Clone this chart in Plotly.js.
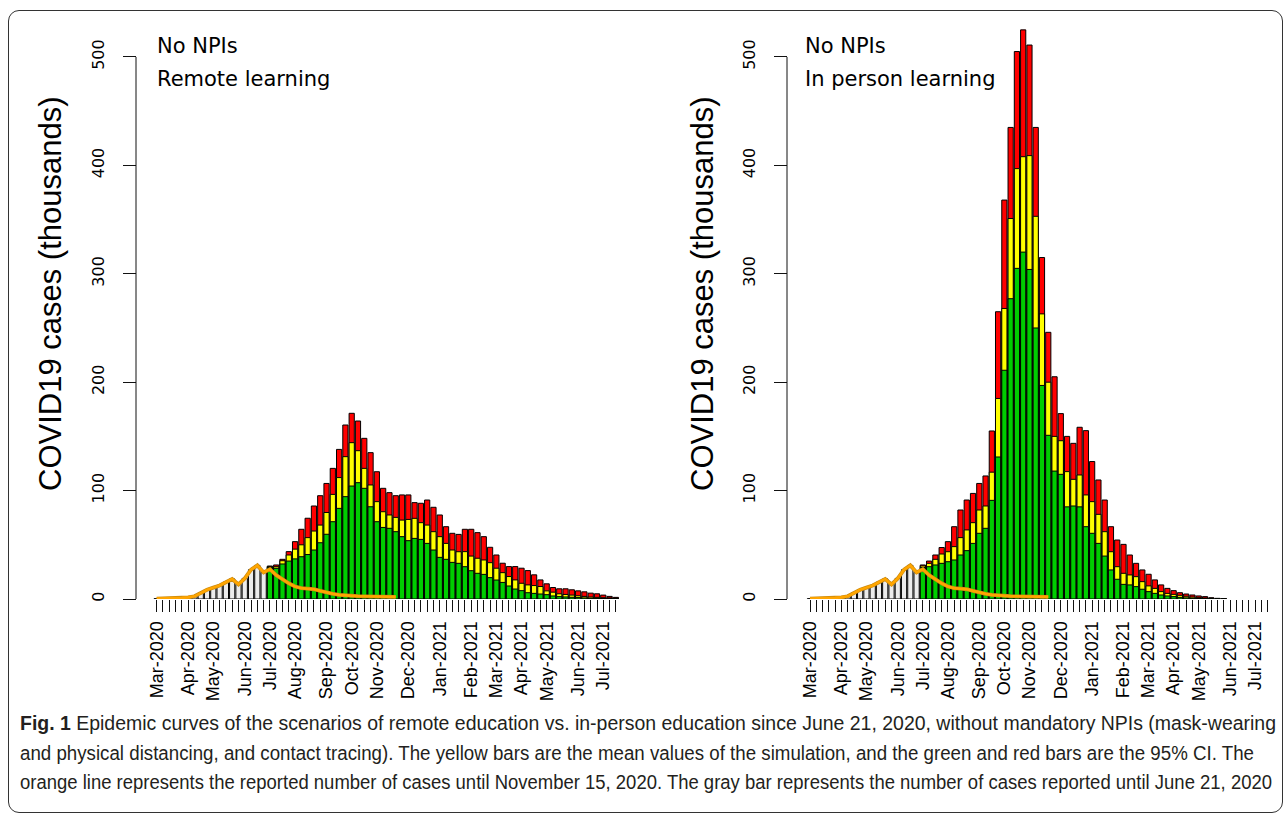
<!DOCTYPE html>
<html>
<head>
<meta charset="utf-8">
<script src="https://cdn.plot.ly/plotly-3.0.1.min.js"></script>
<style>
  html, body { margin:0; padding:0; background:#fff; }
  #wrap { position:relative; width:1284px; height:818px; overflow:hidden; }
  #frame { position:absolute; left:8px; top:10px; width:1275px; height:803px; border:1.5px solid #333; border-radius:11px; box-sizing:border-box; }
  #plot { position:absolute; left:0; top:0; width:1284px; height:818px; }
  #cap { position:absolute; left:20px; top:709px; font-family:'Liberation Sans',Arial,sans-serif; font-size:20px; line-height:29.5px; color:#231f20; white-space:nowrap; }
  #cap span { display:inline-block; transform-origin:0 50%; }
  #cap b { font-weight:bold; }
</style>
</head>
<body>
<div id="wrap">
  <div id="frame"></div>
  <div id="plot"></div>
  <div id="cap"></div>
</div>
<script>
// ---- Data (thousands of cases per week; week index 0 = first week of Mar-2020) ----
const monthLabels = ['Mar-2020','Apr-2020','May-2020','Jun-2020','Jul-2020','Aug-2020','Sep-2020','Oct-2020','Nov-2020','Dec-2020','Jan-2021','Feb-2021','Mar-2021','Apr-2021','May-2021','Jun-2021','Jul-2021'];
const monthWeekIdx = [0,5,9,14,18,22,27,31,35,40,45,50,54,58,62,67,71];
const nWeeks = 74;

// reported weekly cases (orange line), weeks 0..38 (until Nov 15, 2020)
const reported = [0.3,0.4,0.5,0.7,1.0,1.5,2.5,5.5,8.5,10.5,12.5,15.5,18.5,13.5,19,27,31,24.5,27.5,22,18,14.5,11.5,10,9.5,9,7.5,5.8,4.8,3.8,3.2,2.8,2.6,2.5,2.4,2.3,2.2,2.1,2.0];
// reported cases shown as gray bars, weeks 0..17 (until June 21, 2020)
const grayBars = [0.3,0.4,0.5,0.7,1.0,1.5,2.5,5.5,8.5,10.5,12.5,15.5,18.5,13.5,19,27,31,24.5];

// simulation starts at week 18
const simStart = 18;
// Left: No NPIs, remote learning
const leftUpper = [30.4,31.4,36.6,43.7,52.9,64.3,74.5,85.8,95.3,106.6,120.5,138,160.5,171.3,164.2,148.2,135,117.4,102.1,98.1,95.3,96,96,88.9,88.3,91.3,84.6,77.5,66.7,60.6,59.6,64.3,64.3,61.2,57.5,47.7,40.6,33,29.9,29.9,28.4,26.2,22.3,17.6,14,10.6,9.4,9.4,8.5,7.5,6.6,5.4,4.8,3.6,2.4,1.5];
const leftMean  = [29.8,29.8,35.3,40.6,46,50,56.6,62.7,68.2,79.8,96.5,112,131.3,144.2,136.8,120.5,105.2,89.8,80.5,77.5,75.3,72.8,73.4,74.4,70.4,68.2,62.1,57.5,51.3,45.2,43.6,43.7,39.6,37.6,36,33.5,28.4,24.3,20.7,17.6,14.5,13,12.4,11.5,7.5,6.3,4.8,4.2,3.6,3,2.4,1.8,1.5,1.2,1,0.7];
const leftLower = [29.2,28.3,32.3,35,37,39,41,45.2,51.9,59.7,71.3,83.6,94.4,104.2,107.3,102.1,85.1,71.3,66,65.2,62.1,57.5,53.8,55.9,55,51.3,45.2,38.4,36.6,33.8,32.9,29.8,26.1,23.7,22.7,19.7,17.5,15.3,12,9.2,7.7,5.8,5.2,4.6,4,2.8,2.2,1.9,1.6,1.3,1,0.7,0.6,0.5,0.4,0.3];
// Right: No NPIs, in person learning
const rightUpper = [31.4,35,40.6,47.5,52.9,66.7,82.1,91.3,97.4,106.6,113.5,155,265,368,435,505,525,511,435,315,246,205,171,150,143.6,158.4,155.3,126.8,109.8,91.3,66.7,54.4,50.4,40.6,32.9,26.8,22.8,17.6,13,9.8,7.7,5.8,4.6,3.7,2.8,2.2,1.2,0.6,0.3,0,0,0,0,0,0,0];
const rightMean  = [30.5,32.9,36.6,41.5,43.6,48.3,56.6,63.7,70.4,82.1,85.8,117,185,268,351,397,408,409,353,263,200,150,146,117.5,110.4,114.4,96,89.8,78.1,62.1,43.6,29.8,23.7,22.2,20.6,16,12.1,9.8,6.8,5.2,4.3,3.4,2.5,1.8,1.2,0.9,0.5,0.3,0.1,0,0,0,0,0,0,0];
const rightLower = [29,29.8,31.4,32.9,34.4,36,40.6,44.6,51.3,60.6,65.2,91,131,211,277,305,320,304,250,197,151,118,115,85,85.8,85,66.7,60.6,51.3,39.6,26.8,18.2,13.5,13,11.4,9,6.8,5.2,3.7,2.8,2.2,1.5,1,0.7,0.5,0.3,0.2,0.1,0.05,0,0,0,0,0,0,0];

const yTicks = [0,100,200,300,400,500];
const yTitle = 'COVID19 cases (thousands)';
const panelText = [['No NPIs','Remote learning'],['No NPIs','In person learning']];
const captionBold = 'Fig. 1';
const captionLines = [
  ' Epidemic curves of the scenarios of remote education vs. in-person education since June 21, 2020, without mandatory NPIs (mask-wearing',
  'and physical distancing, and contact tracing). The yellow bars are the mean values of the simulation, and the green and red bars are the 95% CI. The',
  'orange line represents the reported number of cases until November 15, 2020. The gray bar represents the number of cases reported until June 21, 2020'
];
const captionLineWidths = [1256, 1234, 1252];

// ---- caption ----
const cap = document.getElementById('cap');
captionLines.forEach((t, i) => {
  const row = document.createElement('div');
  const sp = document.createElement('span');
  if (i === 0) { const b = document.createElement('b'); b.textContent = captionBold; sp.appendChild(b); }
  sp.appendChild(document.createTextNode(t));
  row.appendChild(sp);
  cap.appendChild(row);
  const w = sp.getBoundingClientRect().width;
  sp.style.transform = 'scaleX(' + (captionLineWidths[i] / w) + ')';
});

// ---- helpers ----
const W = 1284, H = 818;
const px = v => v / W;
const py = v => 1 - v / H;
const allIdx = Array.from({length:nWeeks}, (_, i) => i);
const tickText = allIdx.map(i => { const k = monthWeekIdx.indexOf(i); return k >= 0 ? monthLabels[k] : ''; });
const simX = Array.from({length:leftUpper.length}, (_, i) => i + simStart);
const grayX = grayBars.map((_, i) => i);
const repX = reported.map((_, i) => i);

const barW = 0.83;
const edge = {color:'#000', width:1};
function panelTraces(up, mean, low, xa, ya) {
  const nz = a => a.map(v => v > 0 ? v : null);
  return [
    {type:'bar', x:grayX, y:grayBars, width:barW, marker:{color:'#ececec', line:edge}, xaxis:xa, yaxis:ya, hoverinfo:'skip'},
    {type:'bar', x:simX, y:nz(up), width:barW, marker:{color:'#ff0000', line:edge}, xaxis:xa, yaxis:ya, hoverinfo:'skip'},
    {type:'bar', x:simX, y:nz(mean), width:barW, marker:{color:'#ffff00', line:edge}, xaxis:xa, yaxis:ya, hoverinfo:'skip'},
    {type:'bar', x:simX, y:nz(low), width:barW, marker:{color:'#00cd00', line:edge}, xaxis:xa, yaxis:ya, hoverinfo:'skip'},
    {type:'scatter', mode:'lines', x:repX, y:reported, line:{color:'#c98a10', width:3.8}, xaxis:xa, yaxis:ya, hoverinfo:'skip'},
    {type:'scatter', mode:'lines', x:repX, y:reported, line:{color:'#ffa500', width:2.6}, xaxis:xa, yaxis:ya, hoverinfo:'skip'}
  ];
}

const data = [].concat(
  panelTraces(leftUpper, leftMean, leftLower, 'x', 'y'),
  panelTraces(rightUpper, rightMean, rightLower, 'x2', 'y2')
);

// geometry (pixels)
const yDom = [py(599), py(13.6)];
const yRange = [0, 540];
const L = {i0:156.7, s:6.29, axisX:136, titleX:50, textX:155};
const R = {i0:810, s:6.27, axisX:787, titleX:702, textX:803};
const xDom = p => [px(p.i0 - p.s), px(p.i0 + 74 * p.s)];

const xCommon = {range:[-1,74], tickvals:allIdx, ticktext:tickText, ticks:'outside', ticklen:12, tickwidth:1, tickcolor:'#111',
  tickangle:-90, showline:false, showgrid:false, zeroline:false, ticklabelstandoff:2,
  tickfont:{family:'Liberation Sans, Arial, sans-serif', size:18, color:'#000'}, fixedrange:true};
const yCommon = {range:yRange, domain:yDom, tickvals:yTicks, ticks:'outside', ticklen:13, tickwidth:1, tickcolor:'#111',
  tickangle:-90, showline:false, showgrid:false, zeroline:false, ticklabelstandoff:13, side:'left', anchor:'free',
  tickfont:{family:'DejaVu Sans, sans-serif', size:16, color:'#000'}, fixedrange:true};

const ann = [];
[[L,0],[R,1]].forEach(([p,k]) => {
  ann.push({xref:'paper', yref:'paper', x:px(p.titleX), y:py(294), text:yTitle, textangle:-90, showarrow:false,
    xanchor:'center', yanchor:'middle', font:{family:'Liberation Sans, Arial, sans-serif', size:31, color:'#000'}});
  ann.push({xref:'paper', yref:'paper', x:px(p.textX), y:py(46), text:panelText[k][0], showarrow:false,
    xanchor:'left', yanchor:'middle', font:{family:'DejaVu Sans, sans-serif', size:21, color:'#000'}});
  ann.push({xref:'paper', yref:'paper', x:px(p.textX), y:py(79), text:panelText[k][1], showarrow:false,
    xanchor:'left', yanchor:'middle', font:{family:'DejaVu Sans, sans-serif', size:21, color:'#000'}});
});

const shapes = [L, R].map((p, k) => ({type:'line', xref:'paper', yref: k ? 'y2' : 'y', x0:px(p.axisX), x1:px(p.axisX), y0:0, y1:500,
  line:{color:'#111', width:1}}));

const layout = {
  width:W, height:H, margin:{l:0, r:0, t:0, b:0}, paper_bgcolor:'rgba(0,0,0,0)', plot_bgcolor:'rgba(0,0,0,0)',
  barmode:'overlay', bargap:0, showlegend:false,
  xaxis: Object.assign({}, xCommon, {domain:xDom(L), anchor:'y'}),
  xaxis2: Object.assign({}, xCommon, {domain:xDom(R), anchor:'y2'}),
  yaxis: Object.assign({}, yCommon, {position:px(L.axisX)}),
  yaxis2: Object.assign({}, yCommon, {position:px(R.axisX)}),
  annotations: ann, shapes: shapes
};

Plotly.newPlot('plot', data, layout, {staticPlot:true, displayModeBar:false});
</script>
</body>
</html>
